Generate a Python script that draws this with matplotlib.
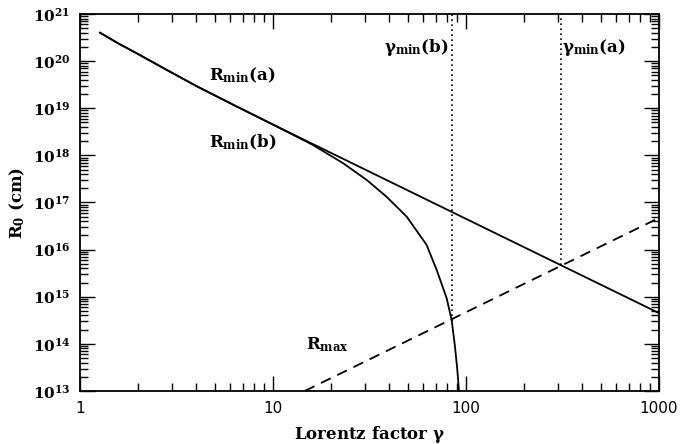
import numpy as np
import matplotlib
matplotlib.use("Agg")
import matplotlib.pyplot as plt
from matplotlib.ticker import LogLocator, NullFormatter, FixedLocator

plt.rcParams['font.family'] = 'DejaVu Serif'
plt.rcParams['mathtext.fontset'] = 'dejavuserif'

# values
gamma_a = [1.27, 1.58, 2.0, 2.69, 3.98, 6.31, 10, 100, 1000]
rmin_a = [4.0e20, 2.37e20, 1.41e20, 7.2e19, 3.0e19, 1.15e19, 4.5e18, 4.5e16, 4.5e14]

gamma_b = [1.27, 1.58, 2.0, 2.69, 3.98, 6.31, 10, 16.1, 23.1, 30.6, 38.8, 49.3,
           62.5, 70.5, 79.4, 84.3, 87.7, 90.2, 91.7, 92.0]
rmin_b = [4.0e20, 2.37e20, 1.41e20, 7.2e19, 3.0e19, 1.15e19, 4.5e18, 1.66e18, 6.8e17,
          3.0e17, 1.32e17, 5.0e16, 1.26e16, 3.7e15, 9.3e14, 3.2e14, 8.7e13, 2.8e13,
          1.15e13, 1.0e13]

gamma_max = [14.6, 1000]
rmax = [1.0e13, 4.7e16]

gmin_b, gmin_b_cross = 84.3, 3.0e14
gmin_a, gmin_a_cross = 310, 4.7e15

fig = plt.figure(figsize=(6.9, 4.44), dpi=100)
ax = fig.add_axes([0.116, 0.1194, 0.839, 0.8491])

ax.plot(gamma_a, rmin_a, color='black', lw=1.3)
ax.plot(gamma_b, rmin_b, color='black', lw=1.3)
ax.plot(gamma_max, rmax, color='black', lw=1.3, linestyle=(0, (6, 4)))

ax.vlines(gmin_b, gmin_b_cross, 1e21, colors='black', linestyles=(0, (1, 2)), lw=1.2)
ax.vlines(gmin_a, gmin_a_cross, 1e21, colors='black', linestyles=(0, (1, 2)), lw=1.2)

ax.set_xscale('log')
ax.set_yscale('log')
ax.set_xlim(1, 1000)
ax.set_ylim(1e13, 1e21)

ax.xaxis.set_major_locator(FixedLocator([1, 10, 100, 1000]))
ax.set_xticklabels(['1', '10', '100', '1000'], family='DejaVu Sans', fontsize=11)
ax.xaxis.set_minor_locator(LogLocator(base=10, subs=np.arange(2, 10), numticks=20))
ax.xaxis.set_minor_formatter(NullFormatter())

yt = [10.0 ** k for k in range(13, 22)]
ax.yaxis.set_major_locator(FixedLocator(yt))
ax.set_yticklabels([r'$\mathbf{10^{%d}}$' % k for k in range(13, 22)], fontsize=11)
ax.yaxis.set_minor_locator(LogLocator(base=10, subs=np.arange(2, 10), numticks=20))
ax.yaxis.set_minor_formatter(NullFormatter())

ax.tick_params(which='both', direction='in', top=True, right=True, width=1)
ax.tick_params(which='major', length=11, pad=7)
ax.tick_params(which='minor', length=6)
for s in ax.spines.values():
    s.set_linewidth(1.3)

ax.set_xlabel(r'Lorentz factor $\mathbf{\gamma}$', fontsize=12, fontweight='bold', labelpad=6)
ax.set_ylabel(r'$\mathbf{R_0}$ (cm)', fontsize=12, fontweight='bold', labelpad=4)

# curve labels
lab = dict(fontsize=12, fontweight='bold', ha='center', va='center', xycoords='axes fraction')
ax.annotate(r'$\mathbf{R_{min}}$(a)', xy=(0.281, 0.838), **lab)
ax.annotate(r'$\mathbf{R_{min}}$(b)', xy=(0.281, 0.660), **lab)
ax.annotate(r'$\mathbf{\gamma_{min}}$(b)', xy=(0.580, 0.910), **lab)
ax.annotate(r'$\mathbf{\gamma_{min}}$(a)', xy=(0.888, 0.910), **lab)
ax.annotate(r'$\mathbf{R_{max}}$', xy=(0.428, 0.122), **lab)

fig.savefig('out.png', dpi=100)
